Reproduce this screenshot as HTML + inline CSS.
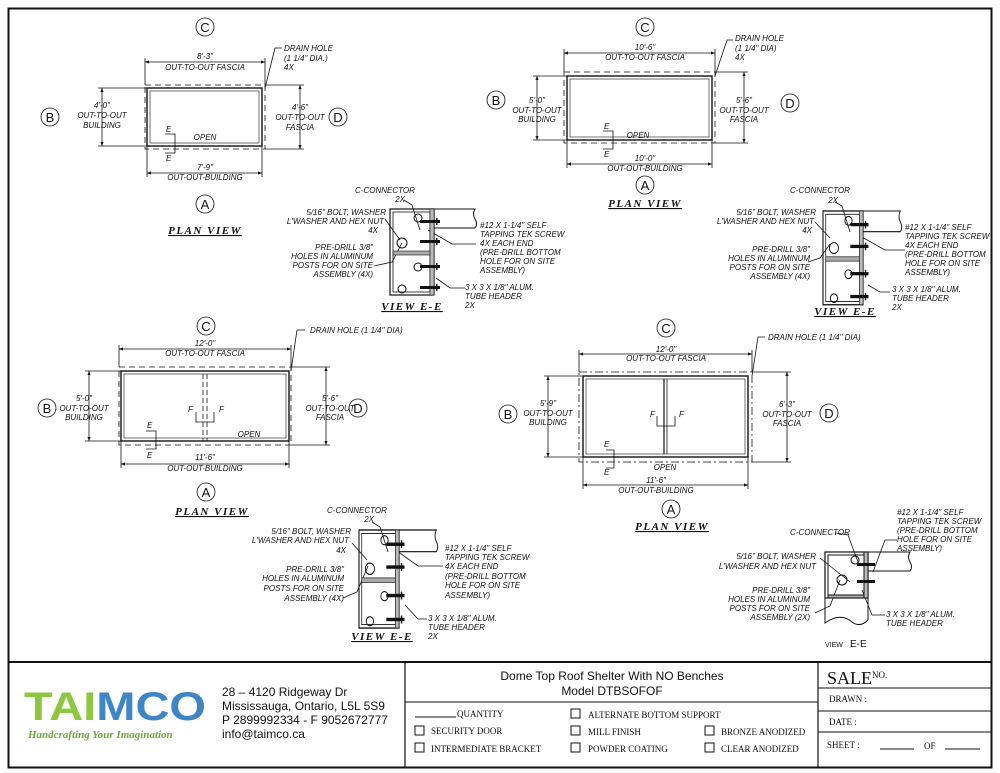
<!DOCTYPE html>
<html><head><meta charset="utf-8"><style>
html,body{margin:0;padding:0;background:#fff}
svg{display:block}
.t{font-family:"Liberation Sans",sans-serif;font-style:italic;font-size:8px;fill:#111}
.m{text-anchor:middle}.e{text-anchor:end}
.pv{font-family:"Liberation Serif",serif;font-style:italic;font-weight:bold;font-size:11px;letter-spacing:1.5px;text-anchor:middle;text-decoration:underline;fill:#111}
.ci{font-family:"Liberation Sans",sans-serif;font-size:13px;text-anchor:middle;fill:#111}
.s{font-family:"Liberation Serif",serif;font-size:9px;fill:#111}
.a{font-family:"Liberation Sans",sans-serif;font-size:12px;fill:#111}
</style></head><body>
<svg width="1000" height="773" viewBox="0 0 1000 773" xmlns="http://www.w3.org/2000/svg">
<defs>
<marker id="ar" markerWidth="6" markerHeight="6" refX="5" refY="3" orient="auto-start-reverse"><path d="M0,1 L5,3 L0,5 z" fill="#111"/></marker>
<g id="det">
<path d="M44,0 H85 Q82,5 85,10 Q88,15 85,19 H44" fill="none" stroke="#111" stroke-width="1"/>
<rect x="0" y="0" width="44" height="86" fill="none" stroke="#111" stroke-width="1.2"/>
<rect x="3" y="3" width="37" height="80" fill="none" stroke="#111" stroke-width="0.8"/>
<rect x="40" y="0" width="4" height="86" fill="#bbb" stroke="#111" stroke-width="0.6"/>
<rect x="3" y="42" width="37" height="4" fill="#aaa" stroke="#111" stroke-width="0.6"/>
<circle cx="28" cy="9" r="4" fill="none" stroke="#111"/>
<circle cx="12" cy="34" r="5" fill="none" stroke="#111"/>
<circle cx="28" cy="58" r="4" fill="none" stroke="#111"/>
<circle cx="12" cy="80" r="4" fill="none" stroke="#111"/>
<g fill="#111"><rect x="30" y="11" width="20" height="3"/><rect x="30" y="31" width="20" height="3"/><rect x="30" y="56" width="20" height="3"/><rect x="30" y="77" width="20" height="3"/>
<rect x="46" y="9" width="1.5" height="7"/><rect x="46" y="29" width="1.5" height="7"/><rect x="46" y="54" width="1.5" height="7"/><rect x="46" y="75" width="1.5" height="7"/></g>
</g>
</defs>
<rect x="8.5" y="8.5" width="983" height="759" fill="none" stroke="#111" stroke-width="2"/>

<g stroke="#111" fill="none" stroke-width="0.8">
<rect x="145" y="85" width="120" height="64" stroke-dasharray="6,4"/>
<rect x="147" y="88" width="115" height="58" stroke-width="1.4"/>
<rect x="150" y="91" width="109" height="52" stroke-width="0.6"/>
<line x1="145" y1="62" x2="265" y2="62" marker-start="url(#ar)" marker-end="url(#ar)"/>
<line x1="145" y1="58" x2="145" y2="85"/><line x1="265" y1="58" x2="265" y2="85"/>
<line x1="102" y1="88" x2="102" y2="146" marker-start="url(#ar)" marker-end="url(#ar)"/>
<line x1="98" y1="88" x2="147" y2="88"/><line x1="98" y1="146" x2="147" y2="146"/>
<line x1="300" y1="85" x2="300" y2="149" marker-start="url(#ar)" marker-end="url(#ar)"/>
<line x1="265" y1="85" x2="304" y2="85"/><line x1="265" y1="149" x2="304" y2="149"/>
<line x1="147" y1="173" x2="262" y2="173" marker-start="url(#ar)" marker-end="url(#ar)"/>
<line x1="147" y1="146" x2="147" y2="177"/><line x1="262" y1="146" x2="262" y2="177"/>
<path d="M265,88 L275,48 H282"/>
<path d="M165,134 H175 V153 H165"/>
<circle cx="205" cy="27" r="9"/><circle cx="50" cy="117" r="9"/><circle cx="338" cy="117" r="9"/><circle cx="205" cy="204" r="9"/>

<rect x="564" y="72" width="151" height="71" stroke-dasharray="6,4"/>
<rect x="567" y="76" width="145" height="64" stroke-width="1.4"/>
<rect x="570" y="79" width="139" height="58" stroke-width="0.6"/>
<line x1="564" y1="53" x2="715" y2="53" marker-start="url(#ar)" marker-end="url(#ar)"/>
<line x1="564" y1="49" x2="564" y2="72"/><line x1="715" y1="49" x2="715" y2="72"/>
<line x1="537" y1="76" x2="537" y2="140" marker-start="url(#ar)" marker-end="url(#ar)"/>
<line x1="533" y1="76" x2="567" y2="76"/><line x1="533" y1="140" x2="567" y2="140"/>
<line x1="744" y1="72" x2="744" y2="143" marker-start="url(#ar)" marker-end="url(#ar)"/>
<line x1="715" y1="72" x2="748" y2="72"/><line x1="715" y1="143" x2="748" y2="143"/>
<line x1="567" y1="164" x2="712" y2="164" marker-start="url(#ar)" marker-end="url(#ar)"/>
<line x1="567" y1="140" x2="567" y2="168"/><line x1="712" y1="140" x2="712" y2="168"/>
<path d="M715,76 L727,40 H733"/>
<path d="M603,131 H613 V149 H603"/>
<circle cx="645" cy="27" r="9"/><circle cx="496" cy="100" r="9"/><circle cx="790" cy="103" r="9"/><circle cx="645" cy="185" r="9"/>

<rect x="119" y="367" width="172" height="78" stroke-dasharray="6,4"/>
<rect x="121" y="371" width="168" height="70" stroke-width="1.4"/>
<rect x="124" y="374" width="162" height="64" stroke-width="0.6"/>
<line x1="203" y1="374" x2="203" y2="441" stroke-dasharray="5,3"/><line x1="207" y1="374" x2="207" y2="441" stroke-dasharray="5,3"/>
<path d="M196,412 V422 H214 V412"/>
<line x1="119" y1="349" x2="291" y2="349" marker-start="url(#ar)" marker-end="url(#ar)"/>
<line x1="119" y1="345" x2="119" y2="367"/><line x1="291" y1="345" x2="291" y2="367"/>
<line x1="89" y1="371" x2="89" y2="441" marker-start="url(#ar)" marker-end="url(#ar)"/>
<line x1="85" y1="371" x2="121" y2="371"/><line x1="85" y1="441" x2="121" y2="441"/>
<line x1="326" y1="367" x2="326" y2="445" marker-start="url(#ar)" marker-end="url(#ar)"/>
<line x1="291" y1="367" x2="330" y2="367"/><line x1="291" y1="445" x2="330" y2="445"/>
<line x1="121" y1="464" x2="289" y2="464" marker-start="url(#ar)" marker-end="url(#ar)"/>
<line x1="121" y1="441" x2="121" y2="468"/><line x1="289" y1="441" x2="289" y2="468"/>
<path d="M291,371 L297,330 H305"/>
<path d="M146,431 H156 V449 H146"/>
<circle cx="206" cy="326" r="9"/><circle cx="47" cy="408" r="9"/><circle cx="358" cy="408" r="9"/><circle cx="206" cy="492" r="9"/>

<rect x="579" y="372" width="173" height="90" stroke-dasharray="8,3,2,3"/>
<rect x="583" y="376" width="165" height="81" stroke-width="1.4"/>
<rect x="586" y="379" width="159" height="75" stroke-width="0.6"/>
<line x1="664" y1="379" x2="664" y2="454" stroke-width="1.2"/><line x1="667" y1="379" x2="667" y2="454"/>
<path d="M657,416 V426 H675 V416"/>
<line x1="579" y1="354" x2="752" y2="354" marker-start="url(#ar)" marker-end="url(#ar)"/>
<line x1="579" y1="350" x2="579" y2="372"/><line x1="752" y1="350" x2="752" y2="372"/>
<line x1="548" y1="376" x2="548" y2="457" marker-start="url(#ar)" marker-end="url(#ar)"/>
<line x1="544" y1="376" x2="583" y2="376"/><line x1="544" y1="457" x2="583" y2="457"/>
<line x1="787" y1="372" x2="787" y2="462" marker-start="url(#ar)" marker-end="url(#ar)"/>
<line x1="752" y1="372" x2="791" y2="372"/><line x1="752" y1="462" x2="791" y2="462"/>
<line x1="583" y1="485" x2="748" y2="485" marker-start="url(#ar)" marker-end="url(#ar)"/>
<line x1="583" y1="457" x2="583" y2="489"/><line x1="748" y1="457" x2="748" y2="489"/>
<path d="M752,376 L758,337 H765"/>
<path d="M606,450 H614 V468 H606"/>
<circle cx="666" cy="328" r="9"/><circle cx="508" cy="414" r="9"/><circle cx="829" cy="413" r="9"/><circle cx="671" cy="509" r="9"/>

<path d="M404,200 L412,205 L420,230"/><path d="M385,219 L400,240"/><path d="M374,266 L392,262 L402,243"/>
<path d="M428,230 L452,244 H476"/><path d="M436,278 L450,288 H465"/>
<path d="M835,202 L842,206 L850,232"/><path d="M815,222 L830,238"/><path d="M808,262 L820,258 L830,244"/>
<path d="M860,236 L885,250 H905"/><path d="M868,285 L880,292 H890"/>
<path d="M372,522 L380,527 L388,552"/><path d="M352,543 L367,560"/><path d="M343,598 L357,592 L368,566"/>
<path d="M397,551 L418,566 H443"/><path d="M405,605 L418,619 H427"/>
<path d="M836,533 L848,535 L858,562"/><path d="M820,558 L850,582"/><path d="M815,613 L830,606 L840,580"/>
<path d="M873,572 L885,540 H897"/><path d="M862,590 L872,615 H885"/>
</g>

<g transform="translate(390,209)"><use href="#det"/></g>
<g transform="translate(823,211) scale(0.91,1.09)"><use href="#det"/></g>
<g transform="translate(359,530) scale(0.91,1.14)"><use href="#det"/></g>
<g stroke="#111" fill="none">
<path d="M868,552 H910 Q907,557 910,562 Q913,567 910,571 H868"/>
<path d="M825,598 V623 Q840,612 852,622 Q860,628 868,620 V598"/>
<rect x="825" y="552" width="43" height="46" stroke-width="1.2"/>
<rect x="828" y="555" width="36" height="40"/>
<rect x="864" y="552" width="4" height="46" fill="#bbb"/>
<rect x="828" y="595" width="36" height="3" fill="#aaa"/>
<circle cx="855" cy="560" r="4"/><circle cx="842" cy="580" r="5"/>
</g>
<g fill="#111"><rect x="857" y="563" width="18" height="3"/><rect x="857" y="580" width="18" height="3"/></g>

<text class="ci" x="205" y="32">C</text><text class="ci" x="50" y="122">B</text><text class="ci" x="338" y="122">D</text><text class="ci" x="205" y="209">A</text>
<text class="t m" x="205" y="59">8'-3"</text><text class="t m" x="205" y="70">OUT-TO-OUT FASCIA</text>
<text class="t" x="284" y="51">DRAIN HOLE</text><text class="t" x="284" y="61">(1 1/4" DIA.)</text><text class="t" x="284" y="70">4X</text>
<text class="t m" x="102" y="108">4'-0"</text><text class="t m" x="102" y="118">OUT-TO-OUT</text><text class="t m" x="102" y="128">BUILDING</text>
<text class="t m" x="300" y="110">4'-6"</text><text class="t m" x="300" y="120">OUT-TO-OUT</text><text class="t m" x="300" y="130">FASCIA</text>
<text class="t m" x="205" y="140">OPEN</text><text class="t" x="166" y="132" font-size="6">E</text><text class="t" x="166" y="161" font-size="6">E</text>
<text class="t m" x="205" y="170">7'-9"</text><text class="t m" x="205" y="180">OUT-OUT-BUILDING</text>
<text class="pv" x="205" y="234" text-decoration="none">PLAN VIEW</text>

<text class="ci" x="645" y="32">C</text><text class="ci" x="496" y="105">B</text><text class="ci" x="790" y="108">D</text><text class="ci" x="645" y="190">A</text>
<text class="t m" x="645" y="50">10'-6"</text><text class="t m" x="645" y="60">OUT-TO-OUT FASCIA</text>
<text class="t" x="735" y="41">DRAIN HOLE</text><text class="t" x="735" y="51">(1 1/4" DIA)</text><text class="t" x="735" y="60">4X</text>
<text class="t m" x="537" y="103">5'-0"</text><text class="t m" x="537" y="113">OUT-TO-OUT</text><text class="t m" x="537" y="122">BUILDING</text>
<text class="t m" x="744" y="103">5'-6"</text><text class="t m" x="744" y="113">OUT-TO-OUT</text><text class="t m" x="744" y="122">FASCIA</text>
<text class="t m" x="638" y="138">OPEN</text><text class="t" x="604" y="129" font-size="6">E</text><text class="t" x="604" y="157" font-size="6">E</text>
<text class="t m" x="645" y="161">10'-0"</text><text class="t m" x="645" y="171">OUT-OUT-BUILDING</text>
<text class="pv" x="645" y="207">PLAN VIEW</text>

<text class="ci" x="206" y="331">C</text><text class="ci" x="47" y="413">B</text><text class="ci" x="358" y="413">D</text><text class="ci" x="206" y="497">A</text>
<text class="t m" x="205" y="346">12'-0"</text><text class="t m" x="205" y="356">OUT-TO-OUT FASCIA</text>
<text class="t" x="310" y="333">DRAIN HOLE (1 1/4" DIA)</text>
<text class="t m" x="84" y="401">5'-0"</text><text class="t m" x="84" y="411">OUT-TO-OUT</text><text class="t m" x="84" y="420">BUILDING</text>
<text class="t m" x="330" y="401">5'-6"</text><text class="t m" x="330" y="411">OUT-TO-OUT</text><text class="t m" x="330" y="420">FASCIA</text>
<text class="t m" x="249" y="437">OPEN</text>
<text class="t" x="188" y="412" font-size="6">F</text><text class="t" x="219" y="412" font-size="6">F</text>
<text class="t" x="147" y="428" font-size="6">E</text><text class="t" x="147" y="458" font-size="6">E</text>
<text class="t m" x="205" y="460">11'-6"</text><text class="t m" x="205" y="471">OUT-OUT-BUILDING</text>
<text class="pv" x="212" y="515">PLAN VIEW</text>

<text class="ci" x="666" y="333">C</text><text class="ci" x="508" y="419">B</text><text class="ci" x="829" y="418">D</text><text class="ci" x="671" y="514">A</text>
<text class="t m" x="666" y="352">12'-0"</text><text class="t m" x="666" y="361">OUT-TO-OUT FASCIA</text>
<text class="t" x="768" y="340">DRAIN HOLE (1 1/4" DIA)</text>
<text class="t m" x="548" y="406">5'-9"</text><text class="t m" x="548" y="416">OUT-TO-OUT</text><text class="t m" x="548" y="425">BUILDING</text>
<text class="t m" x="787" y="407">6'-3"</text><text class="t m" x="787" y="417">OUT-TO-OUT</text><text class="t m" x="787" y="426">FASCIA</text>
<text class="t m" x="665" y="470">OPEN</text>
<text class="t" x="650" y="417" font-size="6">F</text><text class="t" x="679" y="417" font-size="6">F</text>
<text class="t" x="604" y="447" font-size="6">E</text><text class="t" x="604" y="475" font-size="6">E</text>
<text class="t m" x="656" y="483">11'-6"</text><text class="t m" x="656" y="493">OUT-OUT-BUILDING</text>
<text class="pv" x="672" y="530">PLAN VIEW</text>

<text class="t" x="355" y="193">C-CONNECTOR</text><text class="t e" x="405" y="202">2X</text>
<text class="t e" x="386" y="215">5/16" BOLT, WASHER</text><text class="t e" x="384" y="224">L'WASHER AND HEX NUT</text><text class="t e" x="378" y="233">4X</text>
<text class="t e" x="373" y="250">PRE-DRILL 3/8"</text><text class="t e" x="373" y="259">HOLES IN ALUMINUM</text><text class="t e" x="373" y="268">POSTS FOR ON SITE</text><text class="t e" x="373" y="277">ASSEMBLY (4X)</text>
<text class="t" x="480" y="228">#12 X 1-1/4" SELF</text><text class="t" x="480" y="237">TAPPING TEK SCREW</text><text class="t" x="480" y="246">4X EACH END</text><text class="t" x="480" y="255">(PRE-DRILL BOTTOM</text><text class="t" x="480" y="264">HOLE FOR ON SITE</text><text class="t" x="480" y="273">ASSEMBLY)</text>
<text class="t" x="465" y="290">3 X 3 X 1/8" ALUM.</text><text class="t" x="465" y="299">TUBE HEADER</text><text class="t" x="465" y="308">2X</text>
<text class="pv" x="412" y="310">VIEW E-E</text>

<text class="t" x="790" y="193">C-CONNECTOR</text><text class="t e" x="838" y="203">2X</text>
<text class="t e" x="816" y="215">5/16" BOLT, WASHER</text><text class="t e" x="814" y="224">L'WASHER AND HEX NUT</text><text class="t e" x="812" y="233">4X</text>
<text class="t e" x="810" y="252">PRE-DRILL 3/8"</text><text class="t e" x="810" y="261">HOLES IN ALUMINUM</text><text class="t e" x="810" y="270">POSTS FOR ON SITE</text><text class="t e" x="810" y="279">ASSEMBLY (4X)</text>
<text class="t" x="905" y="230">#12 X 1-1/4" SELF</text><text class="t" x="905" y="239">TAPPING TEK SCREW</text><text class="t" x="905" y="248">4X EACH END</text><text class="t" x="905" y="257">(PRE-DRILL BOTTOM</text><text class="t" x="905" y="266">HOLE FOR ON SITE</text><text class="t" x="905" y="275">ASSEMBLY)</text>
<text class="t" x="892" y="292">3 X 3 X 1/8" ALUM.</text><text class="t" x="892" y="301">TUBE HEADER</text><text class="t" x="892" y="310">2X</text>
<text class="pv" x="845" y="315">VIEW E-E</text>

<text class="t" x="327" y="513">C-CONNECTOR</text><text class="t e" x="374" y="522">2X</text>
<text class="t e" x="351" y="534">5/16" BOLT, WASHER</text><text class="t e" x="349" y="543">L'WASHER AND HEX NUT</text><text class="t e" x="346" y="553">4X</text>
<text class="t e" x="344" y="572">PRE-DRILL 3/8"</text><text class="t e" x="344" y="581">HOLES IN ALUMINUM</text><text class="t e" x="344" y="591">POSTS FOR ON SITE</text><text class="t e" x="344" y="601">ASSEMBLY (4X)</text>
<text class="t" x="445" y="551">#12 X 1-1/4" SELF</text><text class="t" x="445" y="560">TAPPING TEK SCREW</text><text class="t" x="445" y="569">4X EACH END</text><text class="t" x="445" y="579">(PRE-DRILL BOTTOM</text><text class="t" x="445" y="588">HOLE FOR ON SITE</text><text class="t" x="445" y="598">ASSEMBLY)</text>
<text class="t" x="428" y="621">3 X 3 X 1/8" ALUM.</text><text class="t" x="428" y="630">TUBE HEADER</text><text class="t" x="428" y="639">2X</text>
<text class="pv" x="382" y="640">VIEW E-E</text>

<text class="t" x="790" y="535">C-CONNECTOR</text>
<text class="t e" x="816" y="559">5/16" BOLT, WASHER</text><text class="t e" x="816" y="569">L'WASHER AND HEX NUT</text>
<text class="t e" x="810" y="593">PRE-DRILL 3/8"</text><text class="t e" x="810" y="602">HOLES IN ALUMINUM</text><text class="t e" x="810" y="611">POSTS FOR ON SITE</text><text class="t e" x="810" y="620">ASSEMBLY (2X)</text>
<text class="t" x="897" y="515">#12 X 1-1/4" SELF</text><text class="t" x="897" y="524">TAPPING TEK SCREW</text><text class="t" x="897" y="533">(PRE-DRILL BOTTOM</text><text class="t" x="897" y="542">HOLE FOR ON SITE</text><text class="t" x="897" y="551">ASSEMBLY)</text>
<text class="t" x="886" y="617">3 X 3 X 1/8" ALUM.</text><text class="t" x="886" y="626">TUBE HEADER</text>
<text x="825" y="647" font-family="Liberation Sans" font-size="7" fill="#111">VIEW</text><text x="850" y="647" font-family="Liberation Sans" font-size="10" fill="#111">E-E</text>

<g stroke="#111" fill="none">
<line x1="8" y1="662" x2="992" y2="662" stroke-width="2"/>
<line x1="405" y1="662" x2="405" y2="768" stroke-width="1.2"/>
<line x1="818" y1="662" x2="818" y2="768" stroke-width="1.2"/>
<line x1="405" y1="702" x2="818" y2="702"/>
<line x1="818" y1="688" x2="992" y2="688"/><line x1="818" y1="711" x2="992" y2="711"/><line x1="818" y1="732" x2="992" y2="732"/>
<rect x="415" y="726" width="9" height="9"/><rect x="415" y="743" width="9" height="9"/>
<rect x="571" y="709" width="9" height="9"/><rect x="571" y="726" width="9" height="9"/><rect x="571" y="743" width="9" height="9"/>
<rect x="705" y="726" width="9" height="9"/><rect x="705" y="743" width="9" height="9"/>
<line x1="415" y1="717" x2="456" y2="717"/>
<line x1="880" y1="749" x2="914" y2="749"/><line x1="945" y1="749" x2="980" y2="749"/>
</g>
<text x="612" y="680" class="a m" font-size="12">Dome Top Roof Shelter With NO Benches</text>
<text x="612" y="695" class="a m" font-size="12">Model DTBSOFOF</text>
<text class="s" x="457" y="717">QUANTITY</text>
<text class="s" x="431" y="734">SECURITY DOOR</text><text class="s" x="431" y="752">INTERMEDIATE BRACKET</text>
<text class="s" x="588" y="718">ALTERNATE BOTTOM SUPPORT</text><text class="s" x="588" y="735">MILL FINISH</text><text class="s" x="588" y="752">POWDER COATING</text>
<text class="s" x="721" y="735">BRONZE ANODIZED</text><text class="s" x="721" y="752">CLEAR ANODIZED</text>
<text x="827" y="684" font-family="Liberation Serif" font-size="18" fill="#111">SALE</text><text class="s" x="872" y="678" font-size="8">NO.</text>
<text class="s" x="829" y="702">DRAWN :</text><text class="s" x="829" y="725">DATE :</text><text class="s" x="827" y="748">SHEET :</text><text class="s" x="924" y="749">OF</text>
<text x="24" y="720" font-family="Liberation Sans" font-weight="bold" font-size="40" textLength="182" lengthAdjust="spacingAndGlyphs"><tspan fill="#8dc63f">TAI</tspan><tspan fill="#3d85c6">MCO</tspan></text>
<text x="28" y="738" font-family="Liberation Serif" font-style="italic" font-weight="bold" font-size="11" fill="#6aa83a">Handcrafting Your Imagination</text>
<text class="a" x="222" y="696">28 – 4120 Ridgeway Dr</text>
<text class="a" x="222" y="710">Mississauga, Ontario, L5L 5S9</text>
<text class="a" x="222" y="724">P 2899992334 - F 9052672777</text>
<text class="a" x="222" y="738">info@taimco.ca</text>
</svg>
</body></html>
